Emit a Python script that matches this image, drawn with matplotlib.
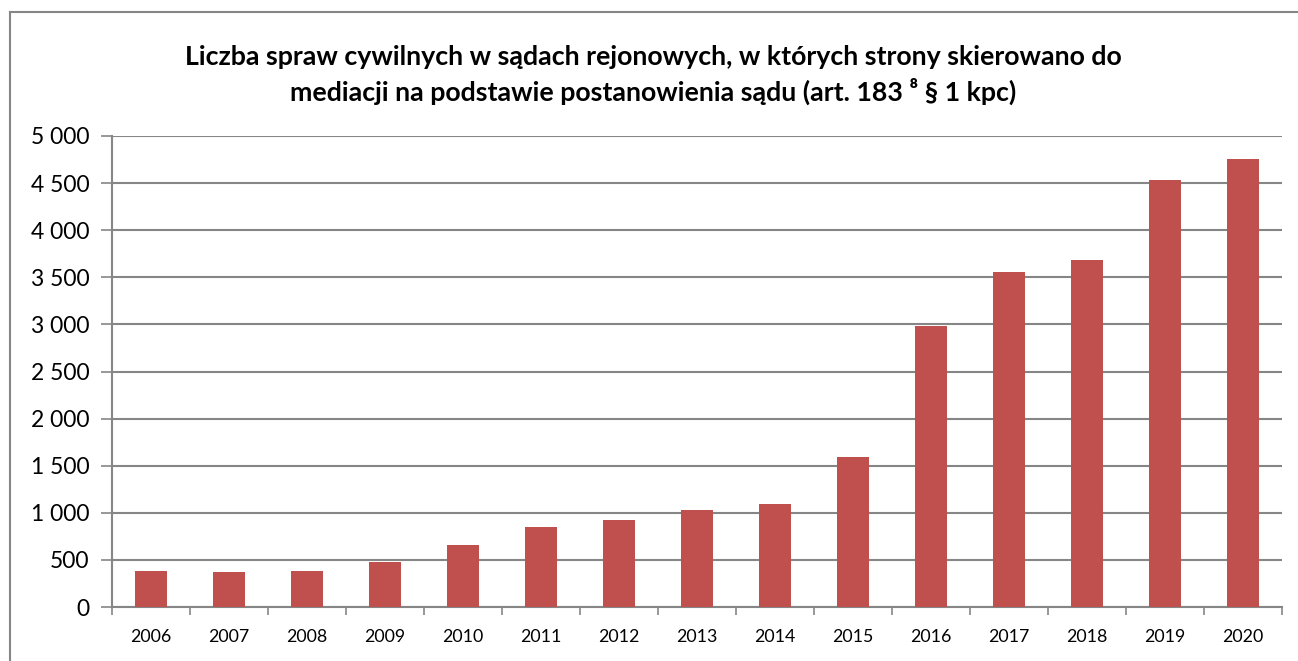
import matplotlib.pyplot as plt
from matplotlib.lines import Line2D
from matplotlib.ticker import FuncFormatter

# Values
years = ['2006', '2007', '2008', '2009', '2010', '2011', '2012', '2013',
         '2014', '2015', '2016', '2017', '2018', '2019', '2020']
cases = [387, 370, 384, 483, 657, 852, 923, 1030, 1094, 1591, 2983, 3558,
         3686, 4538, 4751]
y_ticks = [0, 500, 1000, 1500, 2000, 2500, 3000, 3500, 4000, 4500, 5000]

plt.rcParams['font.family'] = ['Lato', 'DejaVu Sans']
grid_col = '#868686'

fig = plt.figure(figsize=(12.98, 6.61), dpi=100)
ax = fig.add_axes([112 / 1298, 1 - 607 / 661, (1282 - 112) / 1298, (607 - 136) / 661])

x = range(len(years))
ax.bar(x, cases, width=0.4, color='#C0504D', zorder=3)

ax.set_xlim(-0.5, len(years) - 0.5)
ax.set_ylim(0, 5000)
ax.set_yticks(y_ticks)
ax.yaxis.set_major_formatter(FuncFormatter(lambda v, p: f'{int(v):,}'.replace(',', ' ')))
ax.set_xticks(list(x))
ax.set_xticklabels(years, fontsize=12.8)
ax.set_xticks([i - 0.5 for i in range(len(years) + 1)], minor=True)
ax.tick_params(axis='x', which='major', length=0, pad=16)
ax.tick_params(axis='x', which='minor', length=6, color=grid_col, width=1.2)
ax.tick_params(axis='y', length=8, color=grid_col, width=1.2, labelsize=16.5, pad=8)

ax.grid(axis='y', color=grid_col, linewidth=1.5, zorder=0)
for s in ['top', 'right']:
    ax.spines[s].set_visible(False)
for s in ['left', 'bottom']:
    ax.spines[s].set_color(grid_col)
    ax.spines[s].set_linewidth(1.5)

title_kw = dict(ha='center', va='center', fontsize=19.3, fontweight='bold')
fig.text(0.503, 1 - 57 / 661,
         'Liczba spraw cywilnych w sądach rejonowych, w których strony skierowano do',
         **title_kw)
fig.text(0.503, 1 - 91 / 661,
         'mediacji na podstawie postanowienia sądu (art. 183 ⁸ § 1 kpc)',
         **title_kw)

# outer chart frame
fig.add_artist(Line2D([10 / 1298, 10 / 1298], [0, 1 - 12 / 661], color=grid_col, linewidth=1.5))
fig.add_artist(Line2D([10 / 1298, 1], [1 - 12 / 661, 1 - 12 / 661], color=grid_col, linewidth=1.5))

fig.savefig('out.png', dpi=100, facecolor='white')
